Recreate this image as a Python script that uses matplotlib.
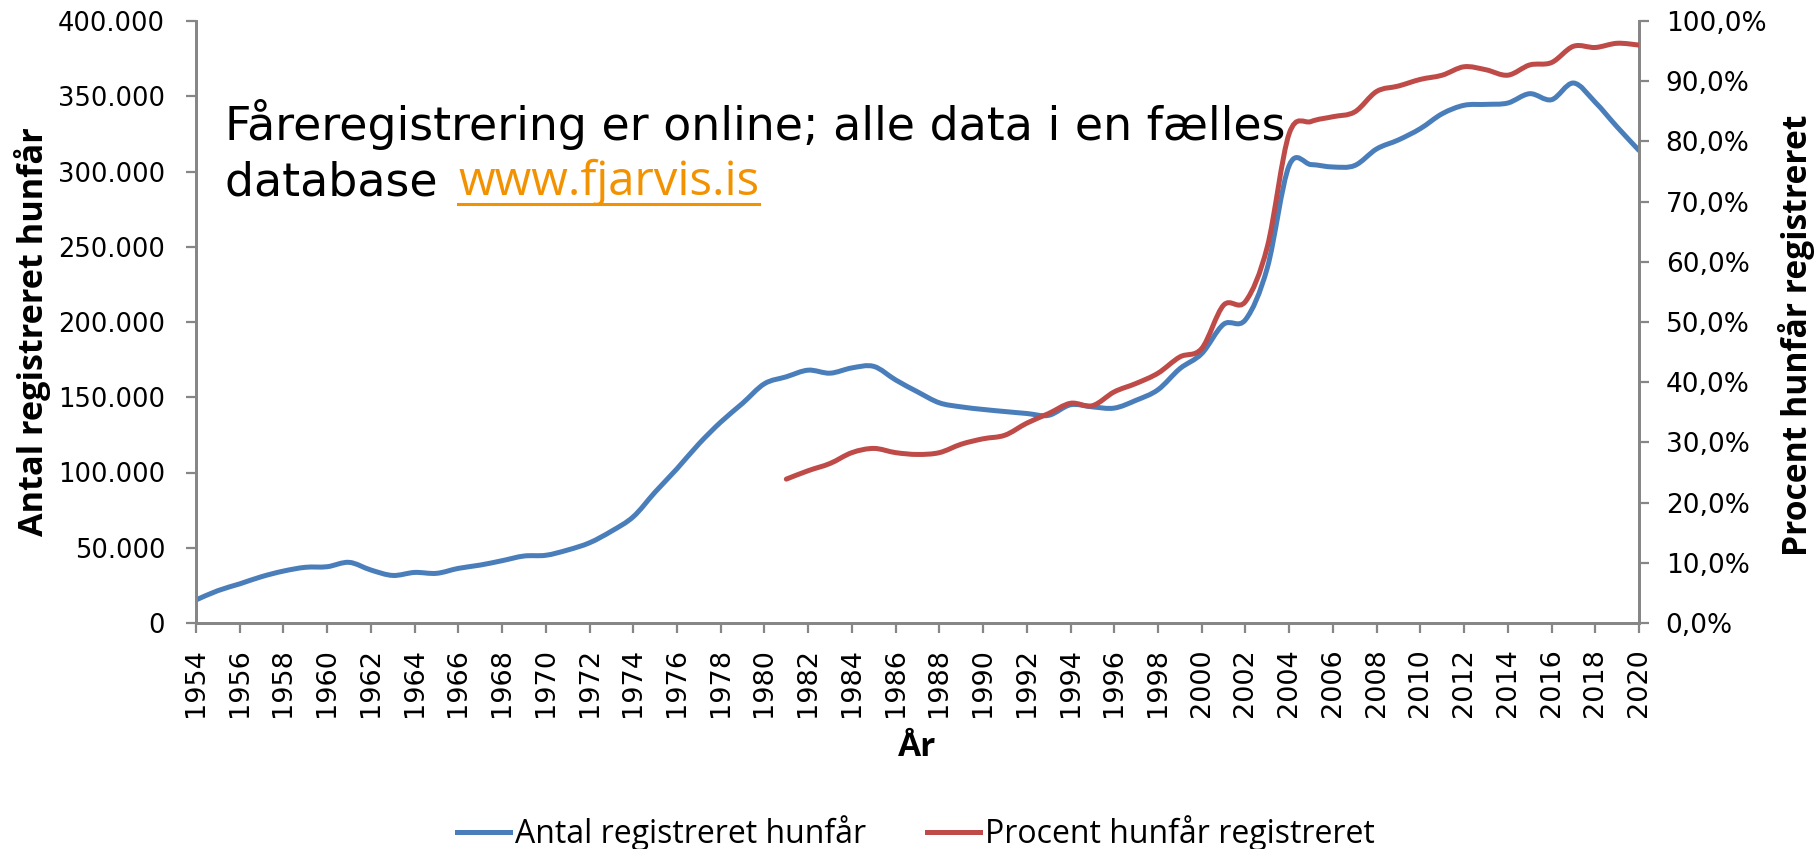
import matplotlib
matplotlib.use('Agg')
import matplotlib.pyplot as plt
from matplotlib.path import Path
from matplotlib.patches import PathPatch
from matplotlib.lines import Line2D
from matplotlib.ticker import FuncFormatter
import numpy as np

# ---------------- data ----------------
years = list(range(1954, 2021))
antal = [15300, 21500, 26000, 30800, 34500, 37000, 37400, 40300, 35200, 31600,
         33600, 33000, 36300, 38500, 41400, 44500, 45000, 48500, 53300, 61000,
         70600, 87000, 102500, 119000, 133500, 146000, 159000, 163600, 168000, 166000,
         169500, 170500, 161500, 153600, 146300, 143600, 141900, 140500, 139200, 138000,
         145000, 143600, 142800, 148000, 155000, 169000, 179000, 198500, 201500, 236000,
         304000, 304600, 303000, 304000, 315000, 321000, 328500, 338400, 344000, 344600,
         345500, 351700, 347700, 358800, 346000, 329600, 314000]

pct_years = list(range(1981, 2021))
procent = [23.9, 25.3, 26.5, 28.3, 29.0, 28.3, 28.0, 28.3, 29.7, 30.6,
           31.2, 33.2, 34.8, 36.5, 36.1, 38.4, 39.8, 41.5, 44.2, 45.6,
           52.8, 53.4, 62.5, 81.3, 83.3, 84.1, 84.9, 88.3, 89.2, 90.3,
           91.0, 92.4, 91.9, 91.0, 92.7, 93.1, 95.8, 95.6, 96.3, 96.0]

year_ticks = list(range(1954, 2021, 2))
left_ticks = list(range(0, 400001, 50000))
right_ticks = list(range(0, 101, 10))

series_labels = ["Antal registreret hunfår", "Procent hunfår registreret"]
note_line1 = "Fåreregistrering er online; alle data i en fælles"
note_line2 = "database "
url_text = "www.fjarvis.is"

BLUE = "#4A7EBB"
RED = "#BE4B48"
GRAY = "#868686"
ORANGE = "#F39200"

W, H = 1819, 849


def smooth_path(xs, ys):
    """Excel-style smoothed line: cubic Bezier through each data point."""
    pts = np.column_stack([xs, ys]).astype(float)
    n = len(pts)
    verts = [pts[0]]
    codes = [Path.MOVETO]
    for i in range(n - 1):
        p0 = pts[i - 1] if i > 0 else pts[i]
        p1 = pts[i]
        p2 = pts[i + 1]
        p3 = pts[i + 2] if i + 2 < n else pts[i + 1]
        c1 = p1 + (p2 - p0) / 6.0
        c2 = p2 - (p3 - p1) / 6.0
        verts += [c1, c2, p2]
        codes += [Path.CURVE4] * 3
    return Path(verts, codes)


fig = plt.figure(figsize=(W / 100, H / 100), dpi=100)
ax = fig.add_axes([196 / W, 1 - 623 / H, (1639 - 196) / W, (623 - 21) / H])
ax2 = ax.twinx()

lw = 3.6
ax.add_patch(PathPatch(smooth_path(years, antal), facecolor='none', edgecolor=BLUE,
                       lw=lw, capstyle='round', joinstyle='round', zorder=3))
ax2.add_patch(PathPatch(smooth_path(pct_years, procent), facecolor='none', edgecolor=RED,
                        lw=lw, capstyle='round', joinstyle='round', zorder=3))

ax.set_xlim(years[0], years[-1])
ax.set_ylim(0, 400000)
ax2.set_ylim(0, 100)

ax.set_xticks(year_ticks)
ax.set_yticks(left_ticks)
ax2.set_yticks(right_ticks)

ax.yaxis.set_major_formatter(FuncFormatter(lambda v, p: f"{int(v):,}".replace(",", ".")))
ax2.yaxis.set_major_formatter(FuncFormatter(lambda v, p: f"{v:.1f}".replace(".", ",") + "%"))

for a in (ax, ax2):
    for s in a.spines.values():
        s.set_color(GRAY)
        s.set_linewidth(2)
    a.spines['top'].set_visible(False)

ax.tick_params(axis='y', direction='out', length=7.2, width=1.6, color=GRAY, pad=15,
               labelsize=18.5, labelcolor='black')
ax.tick_params(axis='x', direction='out', length=7.2, width=1.6, color=GRAY, pad=11,
               labelsize=19.5, labelcolor='black')
ax2.tick_params(axis='y', direction='out', length=7.2, width=1.6, color=GRAY, pad=12,
                labelsize=19, labelcolor='black')
for lab in ax.get_yticklabels() + ax2.get_yticklabels():
    lab.set_fontfamily("DejaVu Sans")
for lab in ax.get_xticklabels():
    lab.set_fontfamily("DejaVu Sans")
    lab.set_rotation(90)
    lab.set_ha('center')
    lab.set_va('top')

# axis titles
fig.text(33 / W, 1 - 332 / H, "Antal registreret hunfår", rotation=90, ha='center', va='center',
         fontsize=24.7, fontweight='bold', family="Open Sans")
fig.text(1796 / W, 1 - 335 / H, "Procent hunfår registreret", rotation=90, ha='center',
         va='center', fontsize=24.2, fontweight='bold', family="Open Sans")
fig.text(917.5 / W, 1 - 748 / H, "År", ha='center', va='center',
         fontsize=24, fontweight='bold', family="Open Sans")

# annotation text (two lines, URL in orange with underline)
fs_note = 33
fig.text(225 / W, 1 - 140 / H, note_line1, ha='left', va='baseline',
         fontsize=fs_note, family="DejaVu Sans")
db = fig.text(225 / W, 1 - 195 / H, note_line2, ha='left', va='baseline',
              fontsize=fs_note, family="DejaVu Sans")
fig.canvas.draw()
renderer = fig.canvas.get_renderer()
dbb = db.get_window_extent(renderer)
url = fig.text((dbb.x1 + 6) / W, 1 - 195 / H, url_text, ha='left', va='baseline',
               fontsize=34, family="Open Sans", color=ORANGE)
fig.canvas.draw()
ub = url.get_window_extent(renderer)
fig.add_artist(Line2D([ub.x0 / W, ub.x1 / W], [1 - 204 / H] * 2, color=ORANGE, lw=2.2))

# legend
handles = [Line2D([], [], color=BLUE, lw=lw), Line2D([], [], color=RED, lw=lw)]
fig.legend(handles, series_labels, loc='center', bbox_to_anchor=(916 / W, 1 - 833 / H),
           ncol=2, frameon=False, prop=dict(family="Open Sans", size=23),
           handlelength=1.66, handletextpad=0.15, columnspacing=1.9)

fig.savefig("out.png", dpi=100)
